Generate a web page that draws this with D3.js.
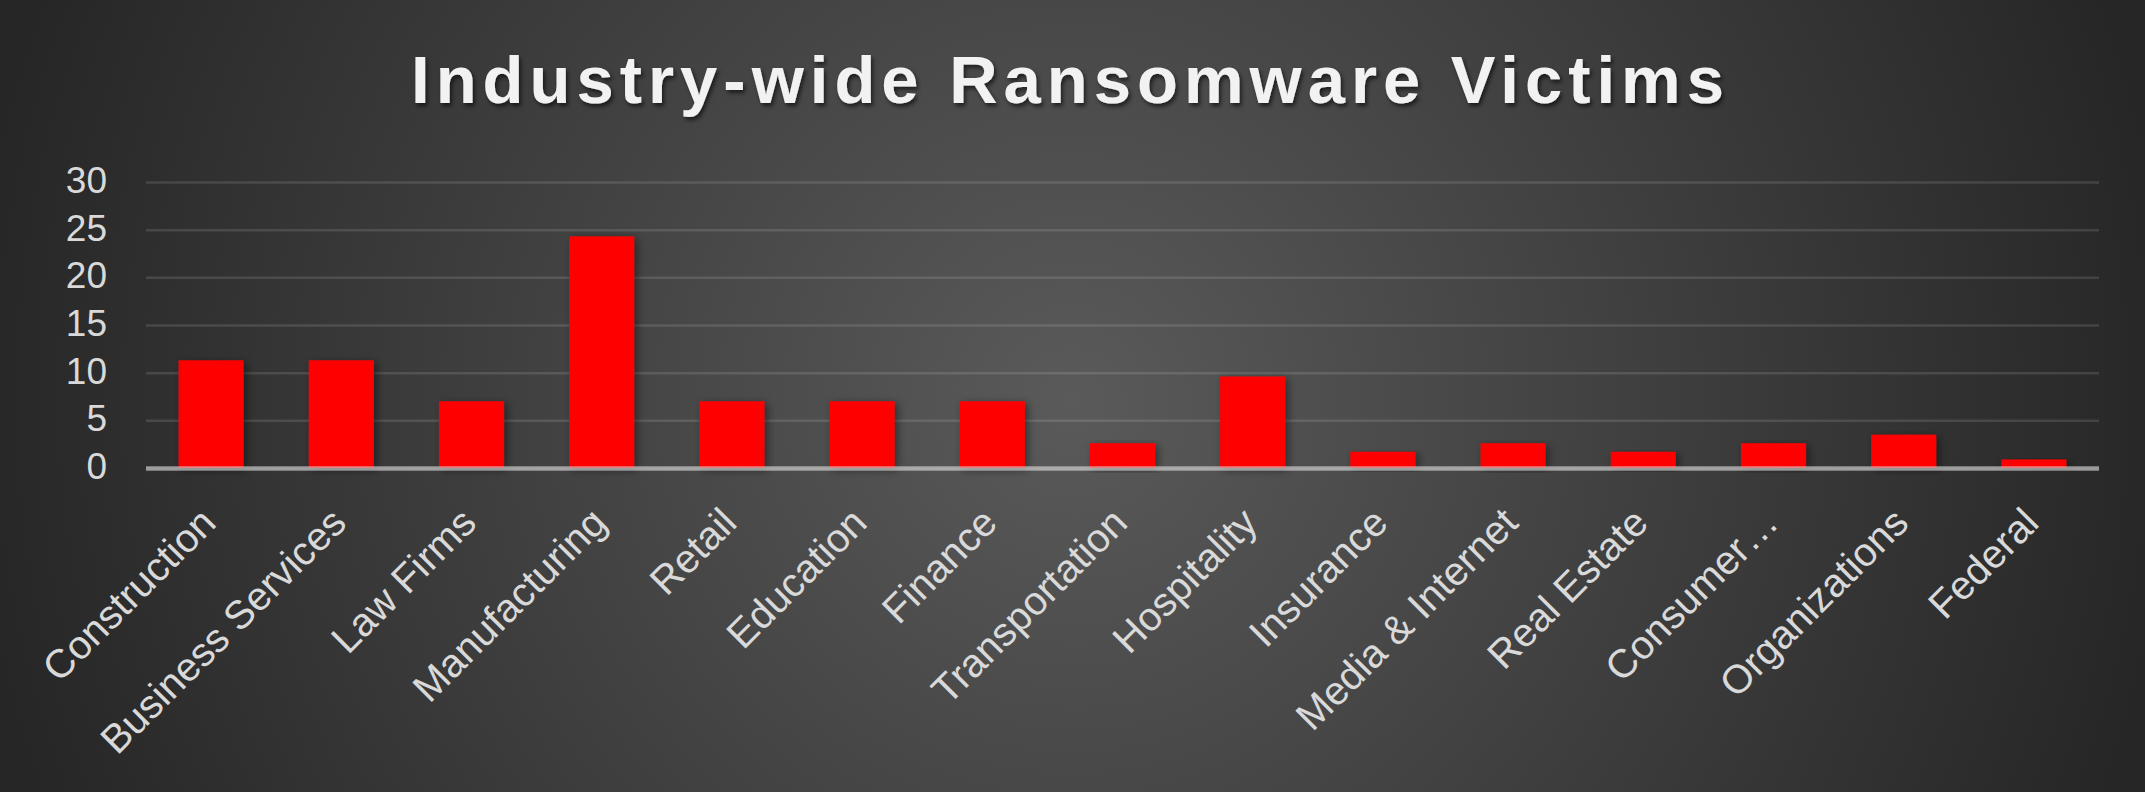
<!DOCTYPE html>
<html>
<head>
<meta charset="utf-8">
<script src="https://cdn.jsdelivr.net/npm/d3@7"></script>
<style>
    html, body { margin: 0; padding: 0; background: #262626; overflow: hidden; }
    text { font-family: "Liberation Sans", Arial, sans-serif; }
</style>
</head>
<body>
<div id="chart"></div>
<script>
// chart data (share of victims, %)
var categories = ["Construction", "Business Services", "Law Firms", "Manufacturing", "Retail",
    "Education", "Finance", "Transportation", "Hospitality", "Insurance",
    "Media & Internet", "Real Estate", "Consumer\u2026", "Organizations", "Federal"];
var values = [11.3, 11.3, 7.0, 24.3, 7.0, 7.0, 7.0, 2.6, 9.6, 1.7, 2.6, 1.7, 2.6, 3.5, 0.9];
var yTicks = [0, 5, 10, 15, 20, 25, 30];
var title = "Industry-wide Ransomware Victims";

var width = 2145,
    height = 792;

var margin = {top: 182, right: 46, bottom: 324, left: 146};

var svg = d3.select("#chart").append("svg")
    .attr("width", width)
    .attr("height", height);

var defs = svg.append("defs");

// radial background
var grad = defs.append("radialGradient")
    .attr("id", "bg")
    .attr("gradientUnits", "userSpaceOnUse")
    .attr("cx", 1072).attr("cy", 400).attr("r", 1110);
grad.append("stop").attr("offset", "0%").attr("stop-color", "#5a5a5a");
grad.append("stop").attr("offset", "100%").attr("stop-color", "#262626");

var shadow = defs.append("filter").attr("id", "barShadow")
    .attr("x", "-30%").attr("y", "-10%").attr("width", "160%").attr("height", "130%");
shadow.append("feDropShadow")
    .attr("dx", 3).attr("dy", 2).attr("stdDeviation", 4)
    .attr("flood-color", "#000").attr("flood-opacity", 0.45);

var titleShadow = defs.append("filter").attr("id", "titleShadow");
titleShadow.append("feDropShadow")
    .attr("dx", 2).attr("dy", 3).attr("stdDeviation", 2)
    .attr("flood-color", "#000").attr("flood-opacity", 0.6);

svg.append("rect")
    .attr("width", width)
    .attr("height", height)
    .attr("fill", "url(#bg)");

var x = d3.scaleBand()
    .domain(categories)
    .range([margin.left, width - margin.right])
    .paddingInner(0.5)
    .paddingOuter(0.25);

var y = d3.scaleLinear()
    .domain([0, 30])
    .range([height - margin.bottom, margin.top]);

// gridlines + y labels
var yAxis = svg.append("g")
    .attr("transform", "translate(" + margin.left + ",0)")
    .call(d3.axisLeft(y)
        .tickValues(yTicks)
        .tickSizeInner(-(width - margin.left - margin.right))
        .tickSizeOuter(0)
        .tickPadding(39));

yAxis.select(".domain").remove();
yAxis.selectAll(".tick line")
    .attr("stroke", "#ffffff")
    .attr("stroke-opacity", 0.12)
    .attr("stroke-width", 2.5);
yAxis.selectAll(".tick text")
    .attr("fill", "#d9d9d9")
    .attr("dy", "0.28em")
    .style("font-size", "37px");

// bars
svg.append("g").selectAll("rect")
    .data(values)
    .enter().append("rect")
    .attr("x", function (d, i) { return x(categories[i]); })
    .attr("y", function (d) { return y(d); })
    .attr("width", x.bandwidth())
    .attr("height", function (d) { return y(0) - y(d); })
    .attr("fill", "#ff0000")
    .attr("filter", "url(#barShadow)");

// axis baseline
svg.append("line")
    .attr("x1", margin.left)
    .attr("x2", width - margin.right)
    .attr("y1", y(0) + 0.5)
    .attr("y2", y(0) + 0.5)
    .attr("stroke", "#d9d9d9")
    .attr("stroke-opacity", 0.6)
    .attr("stroke-width", 4.5);

// rotated category labels
var xAxis = svg.append("g")
    .attr("transform", "translate(0," + y(0) + ")")
    .call(d3.axisBottom(x).tickSize(0).tickPadding(0));

xAxis.select(".domain").remove();
xAxis.selectAll(".tick text")
    .attr("fill", "#d9d9d9")
    .style("font-size", "40px")
    .attr("text-anchor", "end")
    .attr("dy", null)
    .attr("y", null)
    .attr("transform", "translate(7,57) rotate(-45)");

// title
svg.append("text")
    .attr("x", width / 2 - 2)
    .attr("y", 103)
    .attr("text-anchor", "middle")
    .attr("fill", "#f2f2f2")
    .attr("filter", "url(#titleShadow)")
    .style("font-size", "67px")
    .style("font-weight", "bold")
    .style("letter-spacing", "6px")
    .text(title);
</script>
</body>
</html>
